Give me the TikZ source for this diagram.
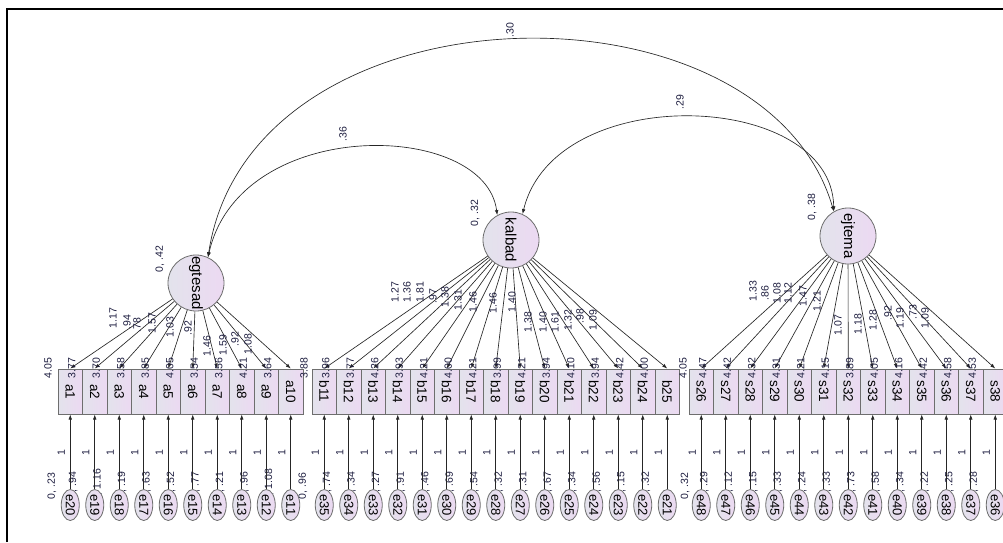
\documentclass[tikz,border=0pt]{standalone}
\usepackage{graphicx}
\usepackage{fontspec}
\setmainfont{Liberation Sans}
\usetikzlibrary{shapes.geometric, arrows.meta}
\definecolor{FillLeft}{HTML}{E3E3EC}
\definecolor{FillRight}{HTML}{ECD9F2}
\definecolor{EdgeGray}{HTML}{6E6E6E}
\definecolor{NumInk}{HTML}{1E1E40}

\tikzset{
  obsbox/.style={draw=EdgeGray, line width=1pt, left color=FillLeft, right color=FillRight,
    minimum width=24.5pt, minimum height=45pt, inner sep=0pt, font=\fontsize{13.5}{13}\selectfont},
  errnode/.style={ellipse, draw=EdgeGray, line width=0.8pt, left color=FillLeft, right color=FillRight,
    minimum width=18pt, minimum height=31pt, inner sep=0pt, font=\fontsize{13}{13}\selectfont},
  latnode/.style={circle, draw=EdgeGray, line width=0.8pt, left color=FillLeft, right color=FillRight,
    minimum size=56pt, inner sep=0pt, font=\fontsize{15}{15}\selectfont},
  numlbl/.style={rotate=90, inner sep=0pt, text=NumInk, font=\fontsize{10.5}{10}\selectfont},
  loadarrow/.style={draw=black!85, line width=0.65pt, -{Latex[length=5pt,width=3.6pt]}},
  covarrow/.style={draw=black!85, line width=0.65pt, {Latex[length=5pt,width=3.6pt]}-{Latex[length=5pt,width=3.6pt]}}
}

\begin{document}
\begin{tikzpicture}[x=1pt, y=-1pt]
\useasboundingbox (0,0) rectangle (1003,542);
\fill[white] (0,0) rectangle (1003,542);
\draw[line width=2pt] (7,542) -- (7,9) -- (1003,9);

% latent factors
\node[latnode] (egtesad) at (196,283) {\rotatebox{-90}{egtesad}};
\node[latnode] (kalbad) at (511,240) {\rotatebox{-90}{kalbad}};
\node[latnode] (ejtema) at (848,236) {\rotatebox{-90}{ejtema}};

\node[numlbl] (egvar) at (160,259) {0, .42};
\node[numlbl] (kavar) at (475,213) {0, .32};
\node[numlbl] (ejvar) at (812,207) {0, .38};

% observed items
\foreach \i in {1,...,10}
  \node[obsbox] (a\i) at ({70.25+(\i-1)*24.5},391.5) {\rotatebox{-90}{a\i}};
\foreach \i in {11,...,25}
  \node[obsbox] (b\i) at ({324.25+(\i-11)*24.5},391.5) {\rotatebox{-90}{b\i}};
\foreach \i in {26,...,38}
  \node[obsbox] (s\i) at ({701.25+(\i-26)*24.5},391.5) {\rotatebox{-90}{s\i}};

% factor loadings
\foreach \i in {1,...,10}
  \draw[loadarrow] (egtesad) -- (a\i.north);
\foreach \i in {11,...,25}
  \draw[loadarrow] (kalbad) -- (b\i.north);
\foreach \i in {26,...,38}
  \draw[loadarrow] (ejtema) -- (s\i.north);

\foreach \x/\y/\v in {113/318/1.17, 127/322/.94, 137/325/.78, 152/323/1.57, 170/327/1.03,
    188/328/.92, 207/346/1.46, 223/345/1.59, 235/339/.92, 248/344/1.08}
  \node[numlbl] at (\x,\y) {\v};
\foreach \x/\y/\v in {395/292/1.27, 407/292/1.36, 420/292/1.81, 433/296/.97, 445/297/1.38,
    458/300/1.31, 473/302/1.46, 493/303/1.46, 512/302/1.40, 528/322/1.38, 543/322/1.40,
    555/322/1.61, 568/320/1.32, 580/316/.98, 593/320/1.09}
  \node[numlbl] at (\x,\y) {\v};
\foreach \x/\y/\v in {753/291/1.33, 765/293/.86, 777/293/1.08, 788/293/1.12, 803/296/1.47,
    817/301/1.21, 838/325/1.07, 858/324/1.18, 873/320/1.28, 888/313/.92, 900/318/1.19,
    913/312/.73, 925/318/1.09}
  \node[numlbl] at (\x,\y) {\v};

% intercepts
\foreach \v [count=\i] in {3.77,3.70,3.58,3.85,4.05,3.54,3.56,4.21,3.64}
  \node[numlbl] at ({71.75+(\i-1)*24.5},368) {\v};
\foreach \v [count=\i] in {3.96,3.77,4.26,3.93,4.21,4.00,4.21,3.99,4.21,3.94,4.10,3.94,4.42,4.00}
  \node[numlbl] at ({325.75+(\i-1)*24.5},368) {\v};
\foreach \v [count=\i] in {4.47,4.42,4.32,4.31,4.21,4.15,3.89,4.05,4.16,4.42,4.58,4.53}
  \node[numlbl] at ({702.75+(\i-1)*24.5},368) {\v};
\node[numlbl] at (48,368) {4.05};
\node[numlbl] at (304,368) {3.88};
\node[numlbl] at (683,368) {4.05};

% error variances (drawn under the ellipses)
\foreach \v [count=\i] in {.94,1.16,.19,.63,.52,.77,.21,.96,1.08}
  \node[numlbl] at ({73.25+(\i-1)*24.5},485) {0, \v};
\foreach \v [count=\i] in {.74,.34,.27,.91,.46,.69,.54,.32,.31,.67,.34,.56,.15,.32}
  \node[numlbl] at ({327.25+(\i-1)*24.5},485) {0, \v};
\foreach \v [count=\i] in {.29,.12,.15,.33,.24,.33,.73,.58,.34,.22,.25,.28}
  \node[numlbl] at ({704.25+(\i-1)*24.5},485) {0, \v};
\node[numlbl] at (52,486) {0, .23};
\node[numlbl] at (303,486) {0, .96};
\node[numlbl] at (685,486) {0, .32};

% error terms
\foreach \i in {1,...,10}{
  \pgfmathtruncatemacro{\e}{21-\i}
  \node[errnode] (e\e) at ({70.25+(\i-1)*24.5},505) {\rotatebox{-90}{e\e}};
  \draw[loadarrow] (e\e) -- (a\i);
  \node[numlbl] at ({61.25+(\i-1)*24.5},453) {1};
}
\foreach \i in {11,...,25}{
  \pgfmathtruncatemacro{\e}{46-\i}
  \node[errnode] (e\e) at ({324.25+(\i-11)*24.5},505) {\rotatebox{-90}{e\e}};
  \draw[loadarrow] (e\e) -- (b\i);
  \node[numlbl] at ({315.25+(\i-11)*24.5},453) {1};
}
\foreach \i in {26,...,38}{
  \pgfmathtruncatemacro{\e}{74-\i}
  \node[errnode] (e\e) at ({701.25+(\i-26)*24.5},505) {\rotatebox{-90}{e\e}};
  \draw[loadarrow] (e\e) -- (s\i);
  \node[numlbl] at ({692.25+(\i-26)*24.5},453) {1};
}

% covariances
\draw[covarrow] (egtesad.65) .. controls (250,-20) and (763,-30) .. (ejtema.120);
\draw[covarrow] (egtesad.65) .. controls (240,115) and (485,120) .. (kalbad.119);
\draw[covarrow] (kalbad.66) .. controls (555,80) and (832,90) .. (ejtema.120);
\node[numlbl] (cov30) at (510,30) {.30};
\node[numlbl] (cov36) at (343,134) {.36};
\node[numlbl] (cov29) at (680,102) {.29};
\end{tikzpicture}
\end{document}
